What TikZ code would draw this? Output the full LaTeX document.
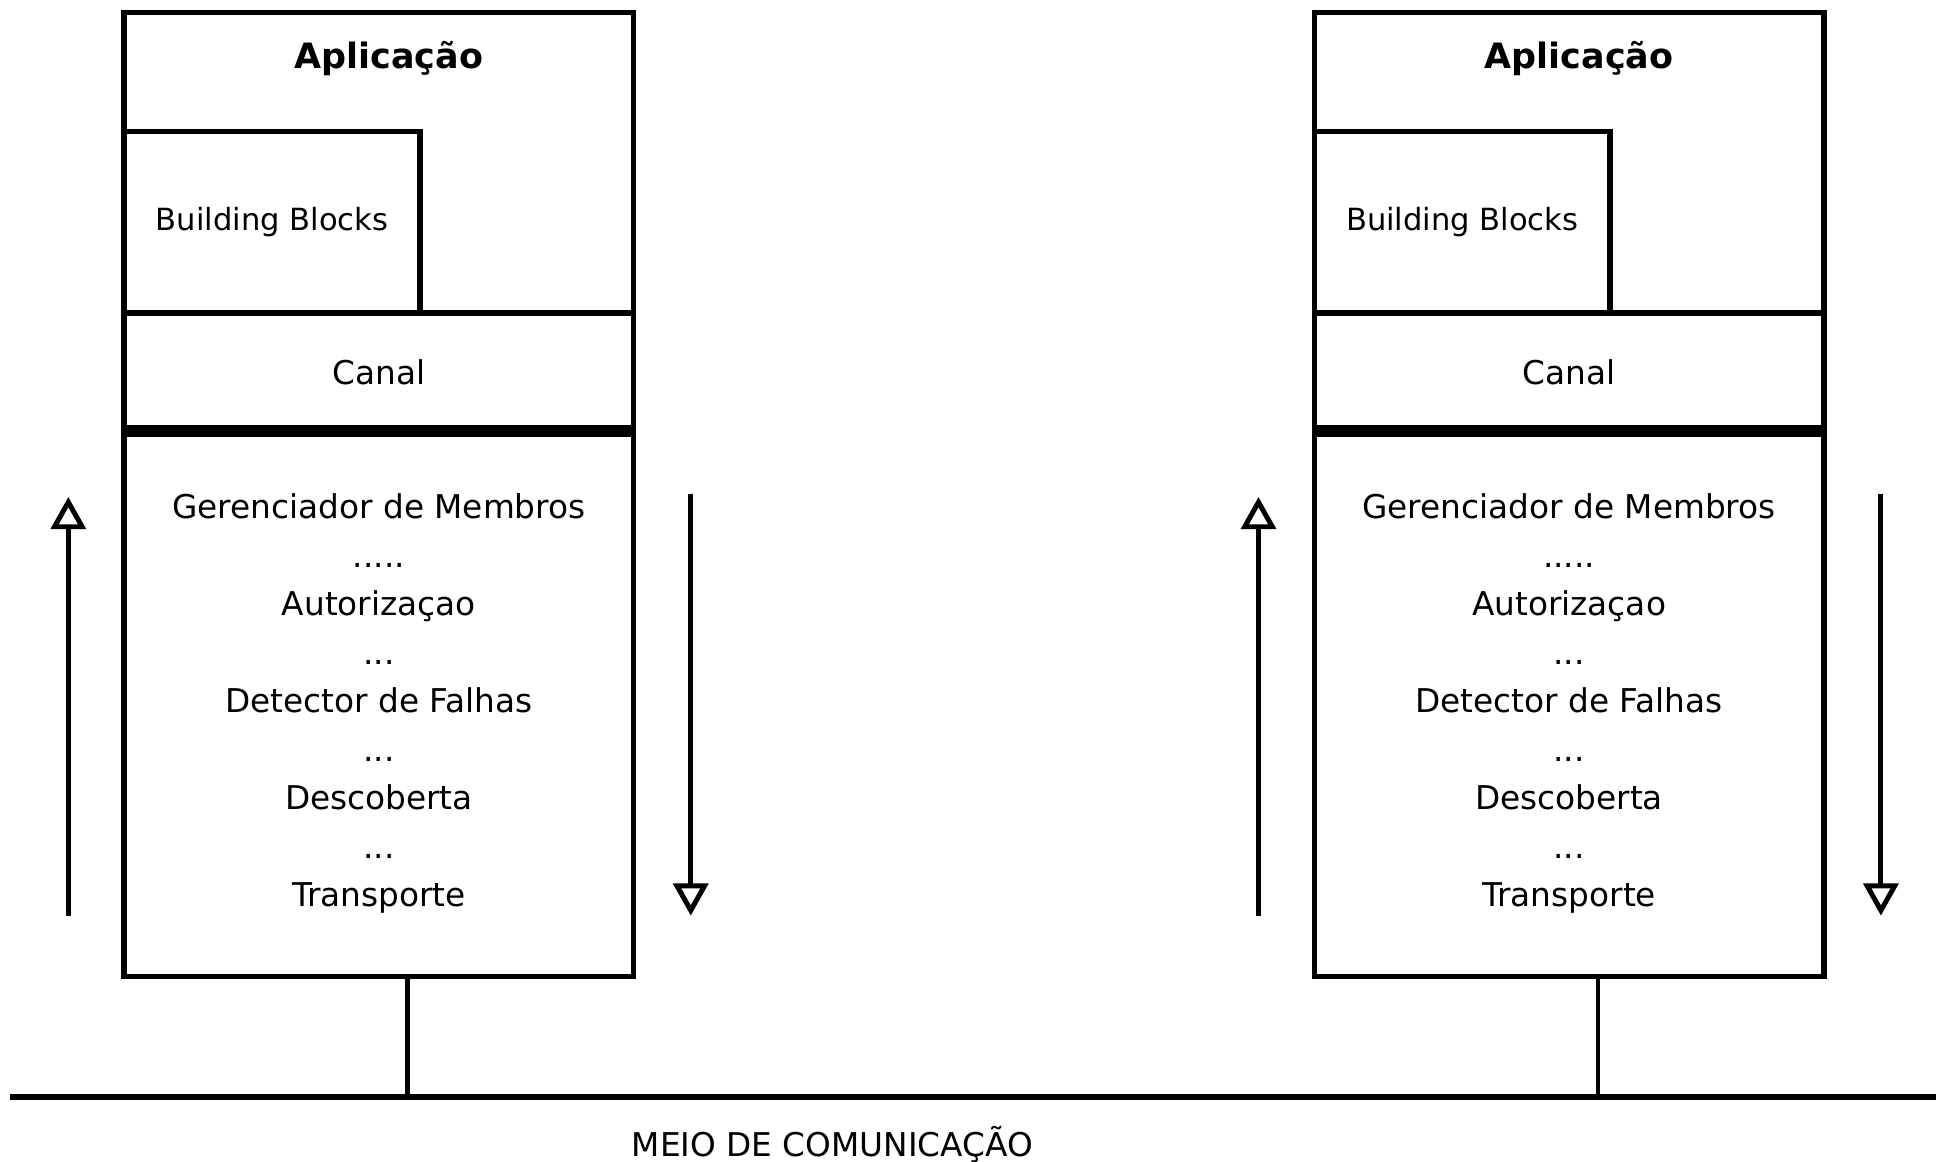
\documentclass[tikz,border=0pt]{standalone}
\usepackage{fontspec}
\setmainfont{DejaVu Sans}
\usetikzlibrary{arrows.meta}

\tikzset{
  caixa/.style={draw, line width=0.09cm, inner sep=0pt, outer sep=0pt},
  texto/.style={font=\fontsize{15}{22.2}\selectfont},
  titulo/.style={font=\fontsize{16}{18}\selectfont\bfseries},
  fluxo/.style={line width=0.08cm, -{Triangle[open, length=5.2mm, width=5.6mm]}},
  fio/.style={line width=0.07cm},
  barra/.style={line width=0.1cm},
  faixa/.style={line width=0.2cm}
}

\begin{document}
\begin{tikzpicture}[x=0.02cm, y=-0.02cm]
        \useasboundingbox (0,0) rectangle (1568,935);

        % Meio de comunicacao
        \coordinate (barraE) at (8,883);
        \coordinate (barraD) at (1558,883);
        \draw[barra] (barraE) -- (barraD);
        \node[texto] (meio) at (670,921) {MEIO DE COMUNICAÇÃO};

        % Pilhas
        \foreach \lado/\dx in {E/0, D/958} {
            \node[caixa, minimum width=8.2cm, minimum height=4.84cm] (app\lado) at (305+\dx,131) {};
            \node[titulo] (tit\lado) at (313+\dx,47) {Aplicação};
            \node[caixa, font=\fontsize{14}{17}\selectfont, minimum width=4.76cm, minimum height=2.92cm] (bb\lado) at (219+\dx,179) {Building Blocks};
            \node[caixa, texto, minimum width=8.2cm, minimum height=1.9cm] (canal\lado) at (305+\dx,299.5) {Canal};
            \node[caixa, texto, align=center, minimum width=8.2cm, minimum height=8.78cm] (pilha\lado) at (305+\dx,566.5)
                {Gerenciador de Membros\\.....\\Autorizaçao\\...\\Detector de Falhas\\...\\Descoberta\\...\\Transporte};
            \draw[faixa] (canal\lado.south west) -- (canal\lado.south east);

            % Setas
            \coordinate (sobeA\lado) at (55+\dx,737);
            \coordinate (sobeB\lado) at (55+\dx,400);
            \coordinate (desceA\lado) at (556+\dx,398);
            \coordinate (desceB\lado) at (556+\dx,737);
            \draw[fluxo] (sobeA\lado) -- (sobeB\lado);
            \draw[fluxo] (desceA\lado) -- (desceB\lado);

            % Ligacao ao meio
            \draw[fio] ([xshift=4.6mm]pilha\lado.south) -- ([xshift=4.6mm]pilha\lado.south |- barraE);
        }
    \end{tikzpicture}
\end{document}
